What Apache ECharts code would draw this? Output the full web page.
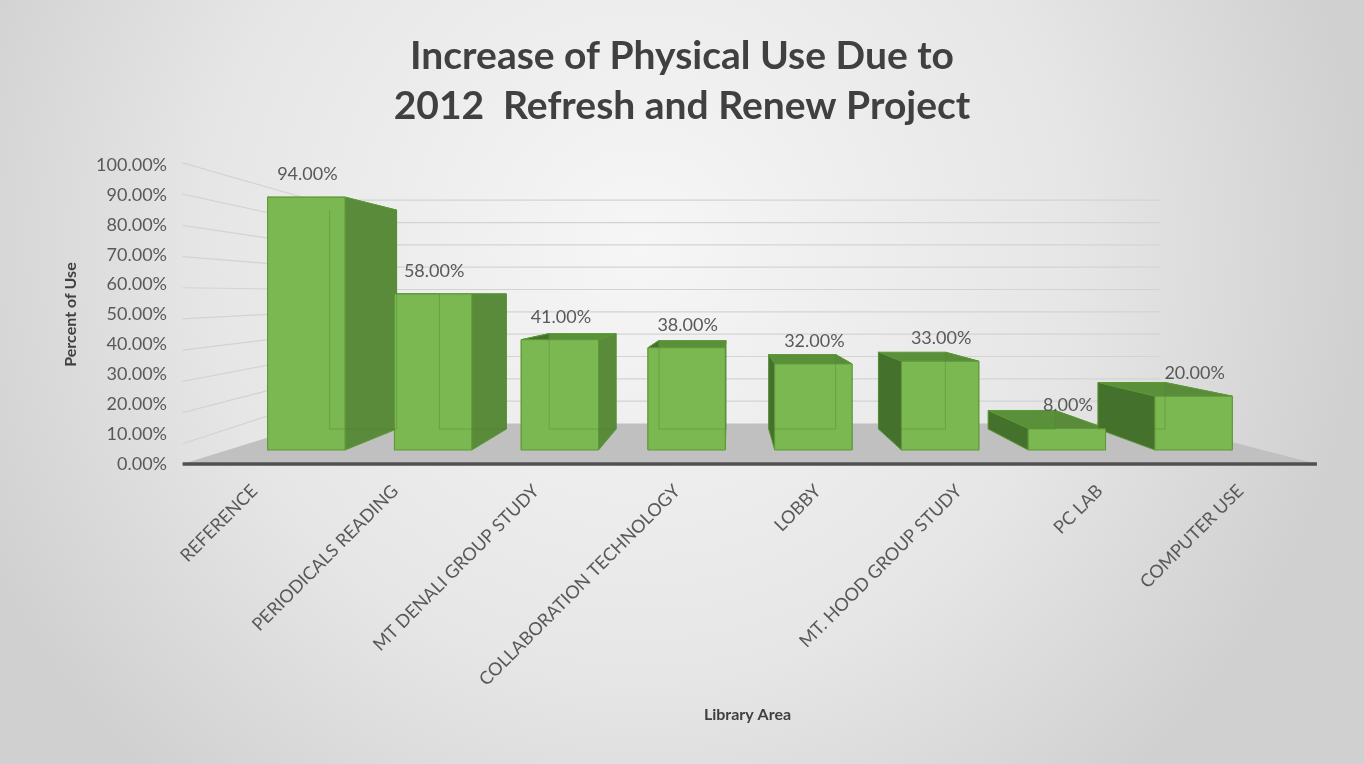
<!DOCTYPE html>
<html><head><meta charset="utf-8">
<script src="https://cdn.jsdelivr.net/npm/echarts@6/dist/echarts.min.js"></script>
<style>html,body{margin:0;padding:0;width:1364px;height:764px;overflow:hidden}#c{width:1364px;height:764px}</style>
</head><body><div id="c"></div>
<script>
// ---- data ----
const categories = ['REFERENCE', 'PERIODICALS READING', 'MT DENALI GROUP STUDY', 'COLLABORATION TECHNOLOGY', 'LOBBY', 'MT. HOOD GROUP STUDY', 'PC LAB', 'COMPUTER USE'];
const percentOfUse = [94, 58, 41, 38, 32, 33, 8, 20];
const yTicks = [0, 10, 20, 30, 40, 50, 60, 70, 80, 90, 100];
const titleLines = ['Increase of Physical Use Due to', '2012  Refresh and Renew Project'];
const yAxisName = 'Percent of Use';
const xAxisName = 'Library Area';

// ---- perspective / style ----
const VP_CAT = 3.34, VP_VAL = 58;   // vanishing point in bar-axis units
const DEPTH = 0.134;                // bar depth (fraction toward VP)
const FLOOR_FRONT = -0.09, WALL = 0.17, LEFT_WALL_FRONT = -0.16;
const FLOOR_L = -0.62, FLOOR_R = 7.59, WALL_R = 7.43; // extents in category units
const BAR_FRAC = 0.61;
const FONT = 'Lato';
const C = {
  front: '#7bb852', frontEdge: '#5c9936', right: '#5a8b3b', left: '#44712c', top: '#5a903a',
  floor: '#c0c0c0', grid: '#d3d3d3', axis: '#505050', text: '#595959', title: '#404040'
};

function proj(p, d, vp) { return [p[0] + (vp[0] - p[0]) * d, p[1] + (vp[1] - p[1]) * d]; }
function xOf(api, cat) {
  const c0 = api.coord([0, 0]), c1 = api.coord([1, 0]);
  return c0[0] + cat * (c1[0] - c0[0]);
}
function vpOf(api) { return [xOf(api, VP_CAT), api.coord([0, VP_VAL])[1]]; }

const chart = echarts.init(document.getElementById('c'), null, { renderer: 'canvas' });

const option = {
  animation: false,
  backgroundColor: { type: 'radial', x: 0.47, y: 0.32, r: 0.95, colorStops: [
    { offset: 0, color: '#f6f6f6' }, { offset: 0.6, color: '#e6e6e6' }, { offset: 1, color: '#d0d0d0' }] },
  title: {
    text: titleLines.join('\n'), left: 'center', top: 26,
    textStyle: { fontFamily: FONT, fontWeight: 'bold', fontSize: 39, lineHeight: 50, color: C.title }
  },
  grid: [
    { left: 175, right: 1080, top: 165, bottom: 300, outerBoundsMode: 'none' },
    { left: 243, right: 107, top: 181, bottom: 314, outerBoundsMode: 'none' },
    { left: 184, right: 53, top: 200, bottom: 284, outerBoundsMode: 'none' }
  ],
  xAxis: [
    { gridIndex: 0, type: 'value', show: false },
    { gridIndex: 1, type: 'category', data: categories, show: false },
    { gridIndex: 2, type: 'category', data: categories,
      axisLine: { show: false }, axisTick: { show: false }, splitLine: { show: false },
      axisLabel: { rotate: 45, interval: 0, margin: 8, fontFamily: FONT, fontSize: 18, color: C.text },
      name: xAxisName, nameLocation: 'middle', nameGap: 227,
      nameTextStyle: { fontFamily: FONT, fontWeight: 'bold', fontSize: 16, color: C.title } }
  ],
  yAxis: [
    { gridIndex: 0, type: 'value', min: 0, max: 100, interval: 10,
      axisLine: { show: false }, axisTick: { show: false }, splitLine: { show: false },
      axisLabel: { margin: 8, fontFamily: FONT, fontSize: 18, color: C.text, formatter: v => v.toFixed(2) + '%' },
      name: yAxisName, nameLocation: 'middle', nameGap: 96, nameRotate: 90,
      nameTextStyle: { fontFamily: FONT, fontWeight: 'bold', fontSize: 16, color: C.title } },
    { gridIndex: 1, type: 'value', min: 0, max: 100, show: false },
    { gridIndex: 2, type: 'value', show: false }
  ],
  series: [
    { // floor, walls, front axis line
      type: 'custom', xAxisIndex: 1, yAxisIndex: 1, z: 1, clip: false, silent: true,
      data: [[0, 0]],
      renderItem(params, api) {
        const vp = vpOf(api);
        const xl = xOf(api, FLOOR_L), xr = xOf(api, FLOOR_R), xw = xOf(api, WALL_R);
        const y0 = api.coord([0, 0])[1];
        const ch = [];
        const fl = proj([xl, y0], FLOOR_FRONT, vp), fr = proj([xr, y0], FLOOR_FRONT, vp);
        const bl = proj([xl, y0], WALL, vp), br = proj([xw, y0], WALL, vp);
        ch.push({ type: 'polygon', z2: 0, shape: { points: [fl, fr, br, bl] }, style: { fill: C.floor } });
        yTicks.forEach(t => {
          const y = api.coord([0, t])[1];
          if (t > 0) {
            const a = proj([xl, y], WALL, vp), b = proj([xw, y], WALL, vp);
            const c = [proj([xl, y], FLOOR_FRONT, vp)[0], proj([xl, y], LEFT_WALL_FRONT, vp)[1]];
            ch.push({ type: 'line', z2: 0, shape: { x1: a[0], y1: a[1], x2: b[0], y2: b[1] }, style: { stroke: C.grid, lineWidth: 1.2 } });
            ch.push({ type: 'line', z2: 0, shape: { x1: c[0], y1: c[1], x2: a[0], y2: a[1] }, style: { stroke: C.grid, lineWidth: 1.2 } });
          }
        });
        ch.push({ type: 'line', z2: 0, shape: { x1: fl[0], y1: fl[1], x2: fr[0], y2: fr[1] }, style: { stroke: C.axis, lineWidth: 3.5 } });
        return { type: 'group', children: ch };
      }
    },
    { // 3D boxes
      type: 'custom', name: yAxisName, xAxisIndex: 1, yAxisIndex: 1, z: 2, clip: false,
      data: percentOfUse.map((v, i) => [i, v]),
      renderItem(params, api) {
        const i = api.value(0), v = api.value(1);
        const vp = vpOf(api);
        const top = api.coord([i, v]), base = api.coord([i, 0]);
        const w = api.size([1, 0])[0] * BAR_FRAC;
        const xl = top[0] - w / 2, xr = top[0] + w / 2;
        const FTL = [xl, top[1]], FTR = [xr, top[1]], FBL = [xl, base[1]], FBR = [xr, base[1]];
        const B = p => proj(p, DEPTH, vp);
        const BTL = B(FTL), BTR = B(FTR), BBL = B(FBL), BBR = B(FBR);
        const edge = { stroke: C.frontEdge, lineWidth: 1, lineJoin: 'round' };
        const hid = { stroke: 'rgba(70,120,40,0.35)', lineWidth: 1 };
        const ln = (a, b, st, z2) => ({ type: 'line', z2, shape: { x1: a[0], y1: a[1], x2: b[0], y2: b[1] }, style: st });
        return { type: 'group', children: [
          { type: 'polygon', z2: 1, shape: { points: [FTL, FTR, BTR, BTL] }, style: Object.assign({ fill: C.top }, edge) },
          { type: 'polygon', z2: 2, shape: { points: [FTL, BTL, BBL, FBL] }, style: Object.assign({ fill: C.left }, edge) },
          { type: 'polygon', z2: 2, shape: { points: [FTR, BTR, BBR, FBR] }, style: Object.assign({ fill: C.right }, edge) },
          { type: 'polygon', z2: 10, shape: { points: [FTL, FTR, FBR, FBL] }, style: Object.assign({ fill: C.front }, edge) },
          ln(BTL, BBL, hid, 11), ln(BTR, BBR, hid, 11), ln(BBL, BBR, hid, 11),
          { type: 'text', z2: 12, style: { text: v.toFixed(2) + '%', x: top[0] + 1, y: top[1] - 14,
            align: 'center', verticalAlign: 'bottom', fontFamily: FONT, fontSize: 18, fill: C.text } }
        ] };
      }
    }
  ]
};
chart.setOption(option);
</script></body></html>
